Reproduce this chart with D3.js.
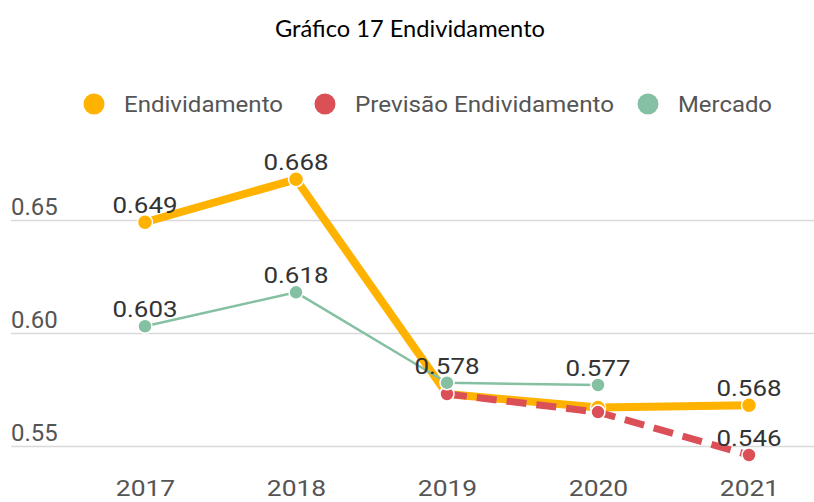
<!DOCTYPE html>
<html><head><meta charset="utf-8">
<script src="https://cdn.jsdelivr.net/npm/d3@7"></script>
<style>body{margin:0;background:#fff}svg{display:block}</style>
</head><body><svg id="c" width="814" height="502"></svg>
<script>
const years = ["2017","2018","2019","2020","2021"];
const endividamento = [0.649, 0.668, 0.573, 0.567, 0.568];
const previsao = [null, null, 0.573, 0.565, 0.546];
const mercado = [0.603, 0.618, 0.578, 0.577, null];
const endivLabels = [true, true, false, false, true];
const prevLabels = [false, false, false, false, true];
const mercLabels = [true, true, true, true, false];
const yTicks = [0.55, 0.60, 0.65];
const seriesNames = ["Endividamento", "Previsão Endividamento", "Mercado"];
const colors = ["#FFB300", "#DB4F57", "#86C0A2"];

const svg = d3.select("#c");
const x = d3.scalePoint().domain(years).range([145, 749]);
const y = d3.scaleLinear().domain([0.55, 0.65]).range([446, 220]);

function stretch(sel, f) {
  sel.each(function() {
    const L = this.getComputedTextLength();
    d3.select(this).attr("textLength", L * f).attr("lengthAdjust", "spacingAndGlyphs");
  });
}

svg.append("text").attr("x", 410).attr("y", 37).attr("text-anchor", "middle")
  .attr("font-family", "Lato, 'Open Sans', sans-serif").attr("font-size", 24).attr("fill", "#000")
  .attr("textLength", 270).attr("lengthAdjust", "spacingAndGlyphs")
  .text("Gráfico 17 Endividamento");

// grid
const ga = svg.append("g").attr("transform", "translate(11,0)")
  .call(d3.axisRight(y).tickValues(yTicks).tickSize(803).tickFormat(d3.format(".2f")));
ga.select(".domain").remove();
ga.selectAll(".tick line").attr("stroke", "#d9d9d9").attr("stroke-width", 1.5);
ga.selectAll(".tick text").attr("x", 0).attr("dy", -6).attr("text-anchor", "start")
  .attr("font-family", "Roboto, sans-serif").attr("font-size", 23).attr("fill", "#555");
stretch(ga.selectAll(".tick text"), 1.04);

// x axis
const xa = svg.append("g").attr("transform", "translate(0,496)")
  .call(d3.axisBottom(x).tickSize(0));
xa.select(".domain").remove();
xa.selectAll(".tick text").attr("y", 0).attr("dy", 0)
  .attr("font-family", "Roboto, sans-serif").attr("font-size", 22).attr("fill", "#555");
stretch(xa.selectAll(".tick text"), 1.2);

// legend
const legX = [94, 325, 648];
const legW = [159, 259, 94];
seriesNames.forEach((n, i) => {
  svg.append("circle").attr("cx", legX[i]).attr("cy", 104).attr("r", 10.5).attr("fill", colors[i]);
  svg.append("text").attr("x", legX[i] + 30).attr("y", 112)
    .attr("font-family", "Roboto, sans-serif").attr("font-size", 22).attr("fill", "#555")
    .attr("textLength", legW[i]).attr("lengthAdjust", "spacingAndGlyphs")
    .text(n);
});

function drawSeries(vals, color, width, dash, r) {
  const pts = years.map((yr, i) => ({yr, v: vals[i], i})).filter(d => d.v != null);
  const line = d3.line().x(d => x(d.yr)).y(d => y(d.v));
  svg.append("path").datum(pts).attr("d", line).attr("fill", "none")
    .attr("stroke", color).attr("stroke-width", width).attr("stroke-dasharray", dash)
    .attr("stroke-linejoin", "round");
  svg.append("g").selectAll("circle").data(pts).join("circle")
    .attr("cx", d => x(d.yr)).attr("cy", d => y(d.v)).attr("r", r)
    .attr("fill", color).attr("stroke", "#fff").attr("stroke-width", 1.5);
  return pts;
}
function drawLabels(pts, show) {
  const t = svg.append("g").selectAll("text").data(pts.filter(d => show[d.i])).join("text")
    .attr("x", d => x(d.yr)).attr("y", d => y(d.v) - 9).attr("text-anchor", "middle")
    .attr("font-family", "Roboto, sans-serif").attr("font-size", 22.5).attr("fill", "#333")
    .text(d => d3.format(".3f")(d.v));
  stretch(t, 1.15);
}
const pE = drawSeries(endividamento, colors[0], 8, null, 7.5);
const pP = drawSeries(previsao, colors[1], 7, "20,10", 7);
const pM = drawSeries(mercado, colors[2], 2.5, null, 7);
drawLabels(pE, endivLabels);
drawLabels(pP, prevLabels);
drawLabels(pM, mercLabels);
</script></body></html>
